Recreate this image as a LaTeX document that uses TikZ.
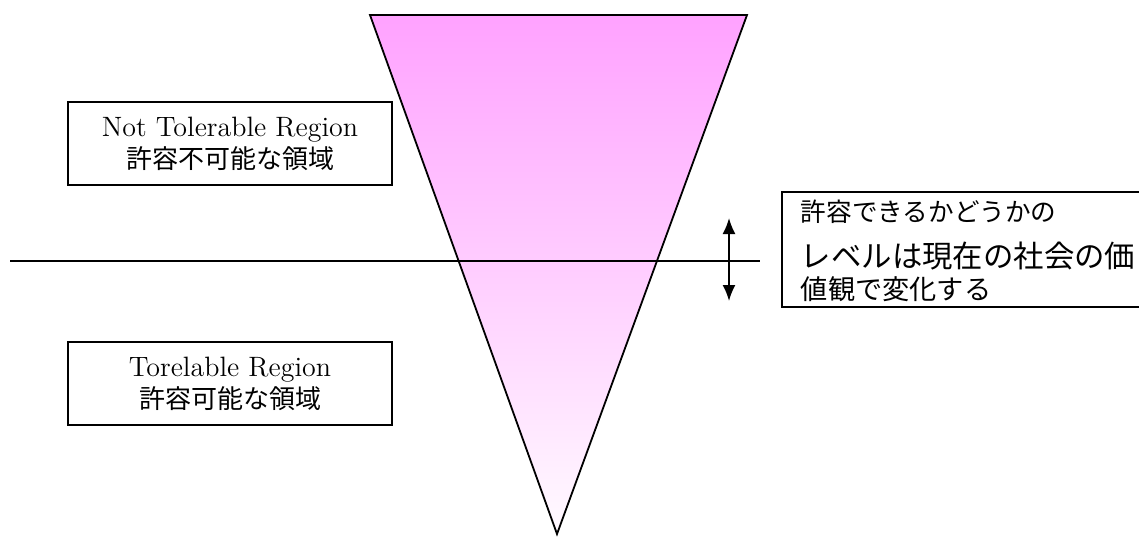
\documentclass[tikz,border=0pt]{standalone}
\usepackage{fontspec}
\newfontfamily\cjk{Noto Sans CJK JP}
\usetikzlibrary{positioning,arrows.meta}
\definecolor{riskpink}{RGB}{255,162,255}
\definecolor{midpink}{RGB}{255,192,255}
\definecolor{safepink}{RGB}{255,250,255}

\begin{document}
\begin{tikzpicture}[x=0.5pt, y=0.5pt, line width=0.9pt,
    region/.style={draw, minimum width=162pt, minimum height=41.5pt, align=center,
                   font=\fontsize{14}{16}\selectfont},
    note/.style={draw, anchor=north west, minimum width=190pt, minimum height=57.5pt},
    noteline/.style={anchor=west, inner sep=0pt},
    tip/.style={{Latex[length=8pt,width=6.5pt]}-{Latex[length=8pt,width=6.5pt]}}]
    \useasboundingbox (0,0) rectangle (1139,-536);

    % risk triangle
    \path[draw, top color=riskpink, middle color=midpink, bottom color=safepink]
        (370,-15) coordinate (t_l) -- (747,-15) coordinate (t_r)
        -- (557,-534) coordinate (t_tip) -- cycle;

    % tolerance level
    \coordinate (lv_l) at (10,-261);
    \coordinate (lv_r) at (760,-261);
    \draw (lv_l) -- (lv_r);

    \coordinate (up) at (729,-218);
    \coordinate (down) at (729,-301);
    \draw[tip] (up) -- (down);

    \node[region] (intolerable) at (230,-143.5)
        {Not Tolerable Region\\{\cjk\fontsize{13}{16}\selectfont 許容不可能な領域}};
    \node[region] (tolerable) at (230,-383.5)
        {Torelable Region\\{\cjk\fontsize{13}{16}\selectfont 許容可能な領域}};

    \node[note] (level) at (781,-191) {};
    \node[noteline, font=\cjk\fontsize{12.8}{14}\selectfont] (level_a) at (800,-212) {許容できるかどうかの};
    \node[noteline, font=\cjk\fontsize{15.2}{17}\selectfont] (level_b) at (800,-256) {レベルは現在の社会の価};
    \node[noteline, font=\cjk\fontsize{13.6}{15}\selectfont] (level_c) at (800,-289) {値観で変化する};
\end{tikzpicture}
\end{document}
